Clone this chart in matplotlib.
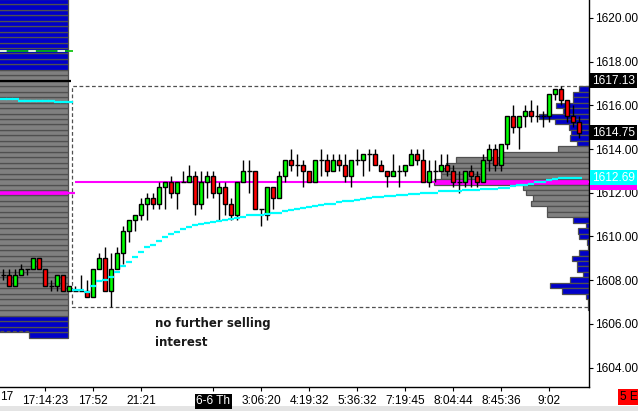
import matplotlib

matplotlib.use("Agg")
import matplotlib.pyplot as plt  # noqa: E402
import numpy as np  # noqa: E402
from matplotlib import patches  # noqa: E402

W, H = 638, 411          # output size, px
PANE_R, PANE_B = 589, 387  # right / bottom edge of the price pane, px from top-left

# ---- OHLC, one bar per index (0-11 = prior session, 12-96 = current) ----
opens = [
    1608.25, 1608.25, 1607.75, 1608.25, 1608.5, 1608.5, 1609.0, 1608.5, 1607.75, 1607.75,
    1608.25, 1607.5, 1607.5, 1607.5, 1607.5, 1607.25, 1608.5, 1609.0, 1607.5, 1608.5,
    1609.25, 1610.25, 1610.75, 1611.0, 1611.5, 1611.75, 1611.5, 1612.25, 1612.5, 1612.0,
    1612.5, 1612.5, 1612.75, 1611.5, 1612.5, 1612.75, 1612.0, 1612.25, 1611.5, 1611.0,
    1612.5, 1613.0, 1613.0, 1611.25, 1611.0, 1612.25, 1611.75, 1612.75, 1613.5, 1613.25,
    1613.25, 1613.0, 1612.5, 1613.5, 1613.5, 1613.0, 1613.5, 1613.25, 1612.75, 1613.5,
    1613.5, 1613.75, 1613.75, 1613.25, 1613.0, 1612.75, 1613.0, 1613.0, 1613.25, 1613.75,
    1613.5, 1612.5, 1613.0, 1613.0, 1613.25, 1613.0, 1612.5, 1612.5, 1613.0, 1612.75,
    1612.5, 1613.5, 1614.0, 1613.25, 1614.25, 1615.5, 1615.0, 1615.5, 1615.75, 1615.5,
    1615.5, 1615.5, 1616.5, 1616.75, 1616.25, 1615.5, 1615.25,
]
highs = [
    1608.5, 1608.5, 1608.5, 1608.75, 1608.5, 1609.0, 1609.0, 1608.5, 1608.0, 1608.25,
    1608.25, 1607.75, 1607.75, 1608.25, 1608.0, 1608.5, 1609.25, 1609.5, 1609.25, 1609.5,
    1610.5, 1610.75, 1611.0, 1611.75, 1612.0, 1612.0, 1612.5, 1612.5, 1612.75, 1612.5,
    1613.0, 1613.25, 1613.0, 1613.0, 1613.0, 1613.0, 1612.5, 1612.5, 1611.75, 1612.5,
    1613.5, 1613.5, 1613.0, 1611.25, 1612.25, 1612.25, 1613.0, 1613.5, 1614.0, 1613.75,
    1613.5, 1613.0, 1613.5, 1614.0, 1613.75, 1613.75, 1613.75, 1613.75, 1613.5, 1614.0,
    1613.75, 1614.0, 1614.0, 1613.5, 1613.0, 1613.75, 1613.25, 1613.25, 1614.0, 1614.0,
    1614.0, 1613.5, 1613.5, 1613.75, 1613.75, 1613.25, 1613.0, 1613.0, 1613.25, 1613.0,
    1613.75, 1614.25, 1614.25, 1614.25, 1615.5, 1616.0, 1615.5, 1616.0, 1616.25, 1616.0,
    1615.75, 1616.5, 1616.75, 1616.9, 1616.25, 1616.0, 1615.5,
]
lows = [
    1608.0, 1607.75, 1607.75, 1608.25, 1608.25, 1608.5, 1608.5, 1607.75, 1607.5, 1607.5,
    1607.5, 1607.5, 1607.5, 1607.5, 1607.25, 1607.25, 1608.5, 1607.5, 1606.75, 1608.5,
    1608.75, 1609.75, 1610.25, 1610.75, 1610.75, 1611.25, 1611.25, 1611.25, 1611.75, 1611.25,
    1612.5, 1612.5, 1611.0, 1611.25, 1611.75, 1611.75, 1610.75, 1611.0, 1610.75, 1610.75,
    1612.5, 1612.0, 1611.25, 1610.5, 1610.75, 1611.25, 1611.75, 1612.5, 1613.0, 1612.75,
    1612.25, 1612.5, 1612.5, 1612.75, 1612.75, 1613.0, 1613.0, 1612.5, 1612.25, 1613.25,
    1612.75, 1613.0, 1613.25, 1613.0, 1612.25, 1612.75, 1612.25, 1612.75, 1613.25, 1613.25,
    1612.5, 1612.25, 1612.5, 1613.0, 1612.75, 1612.25, 1612.0, 1612.25, 1612.25, 1612.25,
    1612.5, 1613.0, 1613.0, 1613.0, 1614.0, 1614.75, 1614.0, 1615.0, 1615.25, 1615.25,
    1615.0, 1615.25, 1616.25, 1616.0, 1615.25, 1615.0, 1614.5,
]
closes = [
    1608.25, 1607.75, 1608.25, 1608.5, 1608.5, 1609.0, 1608.5, 1607.75, 1607.75, 1608.25,
    1607.5, 1607.75, 1607.5, 1607.5, 1607.25, 1608.5, 1609.0, 1607.5, 1608.5, 1609.25,
    1610.25, 1610.75, 1611.0, 1611.5, 1611.75, 1611.5, 1612.25, 1612.5, 1612.0, 1612.5,
    1612.5, 1612.75, 1611.5, 1612.5, 1612.75, 1612.0, 1612.25, 1611.5, 1611.0, 1612.5,
    1613.0, 1613.0, 1611.25, 1611.25, 1612.25, 1611.75, 1612.75, 1613.5, 1613.25, 1613.25,
    1613.0, 1612.5, 1613.5, 1613.5, 1613.0, 1613.5, 1613.25, 1612.75, 1613.5, 1613.5,
    1613.75, 1613.75, 1613.25, 1613.0, 1612.75, 1613.0, 1613.0, 1613.25, 1613.75, 1613.5,
    1612.5, 1613.0, 1613.0, 1613.25, 1613.0, 1612.5, 1612.5, 1613.0, 1612.75, 1612.5,
    1613.5, 1614.0, 1613.25, 1614.25, 1615.5, 1615.0, 1615.5, 1615.75, 1615.5, 1615.5,
    1615.5, 1616.5, 1616.75, 1616.25, 1615.5, 1615.25, 1614.75,
]
SESSION_START = 12  # first bar of the current session

# VWAP steps: prior session (bars 0-11) and current session (bars 12-96)
prior_vwap = [1616.27, 1616.27, 1616.27, 1616.21, 1616.21, 1616.21,
              1616.21, 1616.21, 1616.21, 1616.15, 1616.15, 1616.15]
vwap = [
    1607.55, 1607.55, 1607.47, 1607.74, 1607.95, 1608.0, 1608.15, 1608.38, 1608.65, 1608.84,
    1609.07, 1609.3, 1609.5, 1609.6, 1609.8, 1609.99, 1610.11, 1610.22, 1610.34, 1610.44,
    1610.52, 1610.58, 1610.62, 1610.67, 1610.72, 1610.75, 1610.78, 1610.83, 1610.89, 1610.96,
    1610.98, 1611.0, 1611.03, 1611.05, 1611.09, 1611.16, 1611.21, 1611.25, 1611.31, 1611.36,
    1611.4, 1611.43, 1611.48, 1611.5, 1611.56, 1611.6, 1611.63, 1611.67, 1611.71, 1611.75,
    1611.79, 1611.82, 1611.85, 1611.86, 1611.88, 1611.9, 1611.93, 1611.96, 1612.0, 1612.0,
    1612.0, 1612.08, 1612.08, 1612.08, 1612.08, 1612.11, 1612.11, 1612.11, 1612.15, 1612.15,
    1612.15, 1612.23, 1612.23, 1612.29, 1612.35, 1612.35, 1612.41, 1612.49, 1612.49, 1612.56,
    1612.62, 1612.66, 1612.66, 1612.69, 1612.69,
]

# current-session volume profile, 1616.75 down to 1606.75 (one row per tick)
profile_top = 1616.75
profile_vol = [
    10, 16, 16, 33, 26, 50, 34, 20, 18, 19, 12,
    31, 86, 133, 143, 148, 148, 155, 66, 63, 56, 58, 42, 42,
    16, 3, 11, 10, 2, 1, 10, 17, 12, 12, 6, 19, 39, 27, 3, 1, 1,
]
VA_LO, VA_HI, POC = 1611.0, 1614.0, 1612.5

# prior-session profile (clipped at the left edge), 1605.5 up to 1620.75
prior_profile_bottom = 1605.5
prior_profile_vol = [
    39, 90, 90, 90, 90, 90, 90, 90, 90, 90, 90, 90, 90, 90, 90, 90,
    90, 90, 90, 90, 90, 90, 90, 90, 90, 90, 90, 90, 90, 90, 90, 90,
    90, 90, 90, 90, 90, 90, 90, 90, 90, 90, 90, 90, 90, 90, 90, 90,
    90, 90, 90, 90, 90, 90, 90, 90, 90, 90, 90, 90, 90, 90,
]
PRIOR_VA_LO, PRIOR_VA_HI, PRIOR_POC = 1606.5, 1617.5, 1612.0
prior_level = 1617.13     # black line / label
prior_green = 1618.5
prior_low = 1605.69

tick_pos = [7, 15, 23, 35, 43, 51, 59, 67, 75, 83, 91]
tick_lbl = ["17:14:23", "17:52", "21:21", "6-6 Th", "3:06:20", "4:19:32",
            "5:36:32", "7:19:45", "8:04:44", "8:45:36", "9:02"]
price_ticks = [1604, 1606, 1608, 1610, 1612, 1614, 1616, 1618, 1620]

GREEN, RED = "#00ff00", "#ff0000"
BLUE, GRAY, EDGE = "#0000c8", "#808080", "#505050"
MAGENTA, CYAN = "#ff00ff", "#00ffff"
FONT = "Liberation Sans"
FS = 8.6

YLIM = (1603.11, 1620.82)
XLIM = (-0.55, 97.62)

fig = plt.figure(figsize=(W / 100, H / 100), dpi=100)
fig.patch.set_facecolor("white")
pos = [0, (H - PANE_B) / H, PANE_R / W, PANE_B / H]

# ---- profile pane (x in px measured from the right edge) -------------------
ax_p = fig.add_axes(pos, zorder=0)
ax_p.set_xlim(PANE_R, 0)
ax_p.set_ylim(*YLIM)
ax_p.axis("off")

rp = profile_top - 0.25 * np.arange(len(profile_vol))
rc = [MAGENTA if p == POC else (GRAY if VA_LO <= p <= VA_HI else BLUE) for p in rp]
ax_p.barh(rp, profile_vol, height=0.25, left=0, color=rc, edgecolor=EDGE, lw=0.9)

LEFT_ANCHOR = PANE_R - 68
lp = prior_profile_bottom + 0.25 * np.arange(len(prior_profile_vol))
lc = [MAGENTA if p == PRIOR_POC else (GRAY if PRIOR_VA_LO <= p <= PRIOR_VA_HI else BLUE)
      for p in lp]
ax_p.barh(lp, prior_profile_vol, height=0.25, left=LEFT_ANCHOR, color=lc,
          edgecolor=EDGE, lw=0.9)

# ---- price pane -------------------------------------------------------------
ax = fig.add_axes(pos, zorder=1)
ax.set_facecolor("none")
ax.set_xlim(*XLIM)
ax.set_ylim(*YLIM)

o, h, l, c = map(np.asarray, (opens, highs, lows, closes))
x = np.arange(len(o))
s0 = SESSION_START

# prior-session reference lines
ax.hlines(prior_green, XLIM[0], s0 - 0.4, color="#00c000", lw=1.2, zorder=2)
ax.hlines(prior_green, XLIM[0], s0 - 0.4, color="white", lw=1.2, zorder=2,
          linestyles=(0.5, (4.5, 13)))
ax.hlines(prior_level, XLIM[0], s0 - 0.7, color="black", lw=1.6, zorder=2)
ax.hlines(PRIOR_POC, XLIM[0], s0 - 0.05, color=MAGENTA, lw=1.6, zorder=2)
ax.hlines(prior_low, XLIM[0], 4.3, color=EDGE, lw=0.9, linestyles=(0, (3, 2)), zorder=2)
xp = np.arange(len(prior_vwap))
ax.hlines(prior_vwap, xp - 0.55, xp + 0.55, color=CYAN, lw=1.6, zorder=6)

# current-session range box and POC
hi, lo = h[s0:].max(), l[s0:].min()
ax.plot([XLIM[1], s0 - 0.5, s0 - 0.5, XLIM[1]], [hi, hi, lo, lo],
        color=EDGE, lw=0.9, ls=(0, (3, 2)), zorder=2)
ax.hlines(POC, s0 - 0.05, XLIM[1], color=MAGENTA, lw=1.5, zorder=3)

# candles
ax.vlines(x, l, h, color="black", lw=1.0, zorder=4)
body = np.abs(c - o)
nz = body > 0
col = np.where(c > o, GREEN, RED)
ax.bar(x[nz], body[nz], bottom=np.minimum(o, c)[nz], width=0.6, color=col[nz],
       edgecolor="black", lw=1.0, zorder=5)
ax.hlines(o[~nz], x[~nz] - 0.45, x[~nz] + 0.45, color="black", lw=1.0, zorder=5)

xv = np.arange(s0, s0 + len(vwap))
ax.hlines(vwap, xv - 0.5, xv + 0.5, color=CYAN, lw=1.6, zorder=6)

# axes styling
for side in ("top", "left"):
    ax.spines[side].set_visible(False)
ax.spines["right"].set_color("black")
ax.spines["bottom"].set_color("black")
ax.spines["right"].set_linewidth(1.0)
ax.spines["bottom"].set_linewidth(1.0)
ax.yaxis.tick_right()
ax.set_yticks(price_ticks)
ax.set_yticklabels([f"{p:.2f}" for p in price_ticks])
ax.tick_params(axis="y", length=3, pad=1.5, labelsize=FS, width=0.8)
ax.set_xticks(tick_pos)
ax.set_xticklabels(tick_lbl)
ax.tick_params(axis="x", length=3, pad=3, labelsize=FS, width=0.8)
for t in ax.get_xticklabels() + ax.get_yticklabels():
    t.set_fontfamily(FONT)
for t in ax.get_xticklabels():
    if t.get_text() == "6-6 Th":
        t.set_color("white")
        t.set_bbox(dict(boxstyle="square,pad=0.12", fc="black", ec="none"))

# price markers on the right axis
tr = ax.get_yaxis_transform()


def marker(price, text, fc, tc="white", z=10):
    ax.annotate(text, xy=(1, price), xycoords=tr, xytext=(2.0, 0),
                textcoords="offset points", ha="left", va="center",
                fontsize=FS, family=FONT, color=tc, zorder=z, annotation_clip=False,
                bbox=dict(boxstyle="square,pad=0.15", fc=fc, ec="none"))


marker(POC, "1612.50", MAGENTA, z=9)
marker(vwap[-1], f"{vwap[-1]:.2f}", CYAN, z=10)
marker(prior_level, f"{prior_level:.2f}", "black")
marker(c[-1], f"{c[-1]:.2f}", "black")

# note
fig.text(155 / W, 1 - 323 / H, "no further selling", fontsize=8.5, fontweight="bold",
         color="#1a1a1a", ha="left", va="center")
fig.text(155 / W, 1 - 342 / H, "interest", fontsize=8.5, fontweight="bold",
         color="#1a1a1a", ha="left", va="center")

# leftover bits of the chart window
fig.text(0 / W, 1 - 397 / H, "17", fontsize=FS, family=FONT, ha="left", va="center")
fig.text(620 / W, 1 - 397 / H, "5 E", fontsize=FS, family=FONT, ha="left", va="center",
         bbox=dict(boxstyle="square,pad=0.2", fc="#ff0000", ec="none"))
fig.patches.append(patches.Rectangle((0, 0), 1, 5 / H, transform=fig.transFigure,
                                     fc="#e4e4e4", ec="none", zorder=0))

fig.savefig("out.png", dpi=100, facecolor="white")
